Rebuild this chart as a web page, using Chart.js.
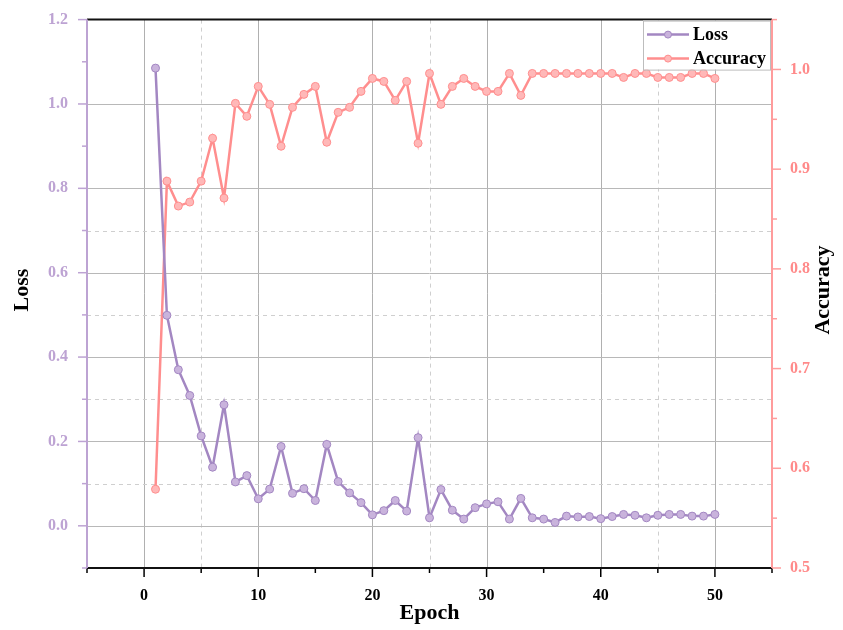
<!DOCTYPE html>
<html>
<head>
<meta charset="utf-8">
<script src="https://cdn.jsdelivr.net/npm/chart.js@4.4.1/dist/chart.umd.min.js"></script>
<style>
html,body{margin:0;padding:0;background:#fff;}
#wrap{width:843px;height:630px;position:relative;}
</style>
</head>
<body>
<div id="wrap"><canvas id="c" width="843" height="630"></canvas></div>
<script>
// ---- data ----
const epochs = [1,2,3,4,5,6,7,8,9,10,11,12,13,14,15,16,17,18,19,20,21,22,23,24,25,26,27,28,29,30,31,32,33,34,35,36,37,38,39,40,41,42,43,44,45,46,47,48,49,50];
const lossValues = [1.085,0.499,0.370,0.309,0.213,0.139,0.287,0.104,0.119,0.064,0.087,0.188,0.077,0.088,0.060,0.193,0.105,0.078,0.055,0.026,0.036,0.060,0.035,0.209,0.019,0.086,0.037,0.016,0.043,0.052,0.057,0.016,0.065,0.019,0.016,0.008,0.023,0.021,0.022,0.017,0.022,0.027,0.025,0.019,0.025,0.027,0.027,0.023,0.023,0.027];
const accuracyValues = [0.579,0.888,0.863,0.867,0.888,0.931,0.871,0.966,0.953,0.983,0.965,0.923,0.962,0.975,0.983,0.927,0.957,0.962,0.978,0.991,0.988,0.969,0.988,0.926,0.996,0.965,0.983,0.991,0.983,0.978,0.978,0.996,0.974,0.996,0.996,0.996,0.996,0.996,0.996,0.996,0.996,0.992,0.996,0.996,0.992,0.992,0.992,0.996,0.996,0.991];
const xTickLabels = [0,10,20,30,40,50];
const lossTickLabels = ['0.0','0.2','0.4','0.6','0.8','1.0','1.2'];
const accTickLabels = ['0.5','0.6','0.7','0.8','0.9','1.0'];
const seriesNames = ['Loss','Accuracy'];

const PURPLE = '#a387c2';
const PURPLE_LIGHT = '#c9b3dc';
const PURPLE_AXIS = '#bda3d3';
const PINK = '#ff8e8e';
const PINK_LIGHT = '#ffb8b8';
const PINK_AXIS = '#ff9c9c';
const SERIF = '"Liberation Serif", "DejaVu Serif", serif';

const lossPts = epochs.map((e,i)=>({x:e,y:lossValues[i]}));
const accPts = epochs.map((e,i)=>({x:e,y:accuracyValues[i]}));

function r1(v){return Math.round(v*10);}
function r2(v){return Math.round(v*20);}

const decor = {
  id:'decor',
  beforeDatasetsDraw(chart){
    const {ctx, chartArea:a, scales} = chart;
    ctx.save();
    scales.x.ticks.forEach(t=>{
      const v = t.value; const px = Math.round(scales.x.getPixelForValue(v))+0.5;
      let solid = (Math.round(v)%10===0 && v>=0 && v<=50);
      let dashed = [5,25,45].includes(Math.round(v));
      if(!solid && !dashed) return;
      ctx.beginPath();
      ctx.lineWidth = 1;
      ctx.strokeStyle = solid ? '#b0b0b0' : '#cfcfcf';
      ctx.setLineDash(solid ? [] : [4,4]);
      ctx.moveTo(px,a.top); ctx.lineTo(px,a.bottom); ctx.stroke();
    });
    scales.y.ticks.forEach(t=>{
      const k = r1(t.value);
      let solid = (k%2===0 && k>=0 && k<=10);
      let dashed = [1,3,5,7].includes(k);
      if(!solid && !dashed) return;
      const py = Math.round(scales.y.getPixelForValue(t.value))+0.5;
      ctx.beginPath();
      ctx.lineWidth = 1;
      ctx.strokeStyle = solid ? '#b8b8b8' : '#cfcfcf';
      ctx.setLineDash(solid ? [] : [4,4]);
      ctx.moveTo(a.left,py); ctx.lineTo(a.right,py); ctx.stroke();
    });
    ctx.restore();
  },
  afterDatasetsDraw(chart){
    const {ctx, chartArea:a, scales} = chart;
    ctx.save();
    ctx.setLineDash([]);
    ctx.lineWidth = 1.5;
    ctx.strokeStyle = '#000';
    scales.x.ticks.forEach(t=>{
      const v=Math.round(t.value);
      const len = (v%10===0)?9:5;
      const px = scales.x.getPixelForValue(t.value);
      ctx.beginPath(); ctx.moveTo(px,a.bottom); ctx.lineTo(px,a.bottom+len); ctx.stroke();
    });
    ctx.strokeStyle = PURPLE_AXIS;
    scales.y.ticks.forEach(t=>{
      const k=r1(t.value);
      const len = (k%2===0)?9:5;
      const py = scales.y.getPixelForValue(t.value);
      ctx.beginPath(); ctx.moveTo(a.left,py); ctx.lineTo(a.left-len,py); ctx.stroke();
    });
    ctx.strokeStyle = PINK_AXIS;
    scales.y1.ticks.forEach(t=>{
      const k=r2(t.value);
      const len = (k%2===0)?9:5;
      const py = scales.y1.getPixelForValue(t.value);
      ctx.beginPath(); ctx.moveTo(a.right,py); ctx.lineTo(a.right+len,py); ctx.stroke();
    });
    ctx.lineWidth = 2;
    ctx.strokeStyle = '#111';
    ctx.beginPath(); ctx.moveTo(a.left,a.top); ctx.lineTo(a.right,a.top); ctx.stroke();
    ctx.beginPath(); ctx.moveTo(a.left,a.bottom); ctx.lineTo(a.right,a.bottom); ctx.stroke();
    ctx.strokeStyle = PURPLE_AXIS;
    ctx.beginPath(); ctx.moveTo(a.left,a.top); ctx.lineTo(a.left,a.bottom); ctx.stroke();
    ctx.strokeStyle = PINK_AXIS;
    ctx.beginPath(); ctx.moveTo(a.right,a.top); ctx.lineTo(a.right,a.bottom); ctx.stroke();

    // legend
    const lx=643, ly=a.top, lw=127, lh=49;
    ctx.fillStyle='#fff';
    ctx.fillRect(lx,ly+1,lw,lh);
    ctx.strokeStyle='#bdbdbd'; ctx.lineWidth=1;
    ctx.strokeRect(lx+0.5,ly+1.5,lw,lh);
    const items=[{n:seriesNames[0],c:PURPLE,f:PURPLE_LIGHT,y:ly+15},{n:seriesNames[1],c:PINK,f:PINK_LIGHT,y:ly+39}];
    items.forEach(it=>{
      ctx.strokeStyle=it.c; ctx.lineWidth=2.5;
      ctx.beginPath(); ctx.moveTo(lx+4,it.y); ctx.lineTo(lx+46,it.y); ctx.stroke();
      ctx.beginPath(); ctx.arc(lx+25,it.y,3.5,0,Math.PI*2);
      ctx.fillStyle=it.f; ctx.fill(); ctx.lineWidth=1; ctx.stroke();
      ctx.fillStyle='#000'; ctx.font='bold 18px '+SERIF;
      ctx.textAlign='left'; ctx.textBaseline='middle';
      ctx.fillText(it.n,lx+50,it.y+1);
    });

    ctx.fillStyle='#000';
    ctx.font='bold 22px '+SERIF;
    ctx.textAlign='center'; ctx.textBaseline='middle';
    ctx.fillText('Epoch',(a.left+a.right)/2,613);
    ctx.save(); ctx.translate(22,290); ctx.rotate(-Math.PI/2); ctx.fillText('Loss',0,0); ctx.restore();
    ctx.save(); ctx.translate(823,290); ctx.rotate(-Math.PI/2); ctx.fillText('Accuracy',0,0); ctx.restore();
    ctx.restore();
  }
};

const tickFont = {family:SERIF, weight:'bold', size:16};

new Chart(document.getElementById('c'), {
  type:'line',
  data:{
    datasets:[
      {label:seriesNames[0], data:lossPts, yAxisID:'y', borderColor:PURPLE, backgroundColor:PURPLE_LIGHT,
       borderWidth:2.5, pointRadius:4, pointBackgroundColor:PURPLE_LIGHT, pointBorderColor:PURPLE, pointBorderWidth:1, tension:0, order:1},
      {label:seriesNames[1], data:accPts, yAxisID:'y1', borderColor:PINK, backgroundColor:PINK_LIGHT,
       borderWidth:2.5, pointRadius:4, pointBackgroundColor:PINK_LIGHT, pointBorderColor:PINK, pointBorderWidth:1, tension:0, order:2}
    ]
  },
  options:{
    responsive:false, animation:false, devicePixelRatio:1,
    layout:{padding:{top:14,left:0,right:0,bottom:0}},
    plugins:{legend:{display:false}, tooltip:{enabled:false}},
    scales:{
      x:{type:'linear', min:-5, max:55,
        ticks:{stepSize:5, autoSkip:false, maxRotation:0, color:'#000', font:tickFont, padding:8,
          callback:(v)=>{const r=Math.round(v); return xTickLabels.includes(r)? String(r):'';}},
        grid:{drawOnChartArea:false, drawTicks:true, tickLength:10, tickColor:'rgba(0,0,0,0)'},
        border:{display:false},
        afterFit(s){s.height=62;}
      },
      y:{type:'linear', position:'left', min:-0.1, max:1.2,
        ticks:{stepSize:0.1, autoSkip:false, color:PURPLE_AXIS, font:tickFont, padding:10,
          callback:(v)=>{const k=r1(v); const s=(k/10).toFixed(1); return (k%2===0 && lossTickLabels.includes(s))? s:'';}},
        grid:{drawOnChartArea:false, drawTicks:true, tickLength:9, tickColor:'rgba(0,0,0,0)'},
        border:{display:false},
        afterFit(s){s.width=87;}
      },
      y1:{type:'linear', position:'right', min:0.5, max:1.05,
        ticks:{stepSize:0.05, autoSkip:false, color:'#ff8a8a', font:tickFont, padding:9,
          callback:(v)=>{const k=r2(v); const s=(k/20).toFixed(1); return (k%2===0 && accTickLabels.includes(s))? s:'';}},
        grid:{drawOnChartArea:false, drawTicks:true, tickLength:9, tickColor:'rgba(0,0,0,0)'},
        border:{display:false},
        afterFit(s){s.width=71;}
      }
    }
  },
  plugins:[decor]
});
</script>
</body>
</html>
